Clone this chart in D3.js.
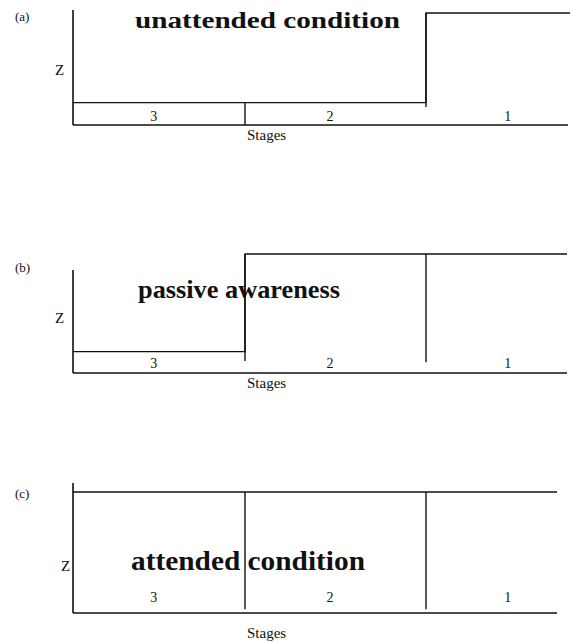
<!DOCTYPE html>
<html>
<head>
<meta charset="utf-8">
<script src="https://cdn.jsdelivr.net/npm/d3@7"></script>
<style>
  body { margin: 0; background: #fff; }
  svg { display: block; }
  text { font-family: "Liberation Serif", "Times New Roman", serif; fill: #111; }
</style>
</head>
<body>
<svg id="chart"></svg>
<script>
// stages, from left to right
const stages = ["3", "2", "1"];
// relative Z level of each stage in each panel
const zA = [0.2, 0.2, 1];
const zB = [0.18, 1, 1];
const zC = [1, 1, 1];
// where each stage divider stops at the bottom (Z units)
const floorA = [0, 0.16];
const floorB = [0.1, 0.09];
const floorC = [0.03, 0.03];
const titles = ["unattended condition", "passive awareness", "attended condition"];
const tags = ["(a)", "(b)", "(c)"];

// layout of the three panels (pixels)
const panels = [
  {z: zA, floor: floorA, base: 125, top: 13, axisTop: 10, xEnd: 570, baseEnd: 568,
   title: {x: 135, y: 28, size: 24, len: 265}, tagY: 21, zY: 75, zX: 55, labY: 121, stY: 140},
  {z: zB, floor: floorB, base: 373, top: 254, axisTop: 270, xEnd: 567, baseEnd: 567,
   title: {x: 138, y: 298, size: 25, len: 202}, tagY: 272, zY: 323, zX: 55, labY: 368, stY: 388},
  {z: zC, floor: floorC, base: 613, top: 492, axisTop: 483, xEnd: 557, baseEnd: 557,
   title: {x: 131, y: 570, size: 28, len: 234}, tagY: 498, zY: 571, zX: 61, labY: 602, stY: 638}
];

const W = 573, H = 642;
const svg = d3.select("#chart").attr("width", W).attr("height", H);

// stage edges 0..3 mapped onto the page
const x = d3.scaleLinear().domain([0, 1, 2, 3]).range([73, 245, 426, 600]);

panels.forEach((p, i) => {
  const y = d3.scaleLinear().domain([0, 1]).range([p.base, p.top]);
  const g = svg.append("g");
  const ink = "#111";

  // y axis
  g.append("line")
    .attr("x1", x(0)).attr("x2", x(0))
    .attr("y1", p.axisTop).attr("y2", p.base)
    .attr("stroke", ink).attr("stroke-width", 1.6);

  // x baseline
  g.append("line")
    .attr("x1", x(0)).attr("x2", p.baseEnd)
    .attr("y1", p.base).attr("y2", p.base)
    .attr("stroke", ink).attr("stroke-width", 1.4);

  // Z step line
  const pts = p.z.map((v, k) => [k, v]);
  pts.push([x.invert(p.xEnd), p.z[p.z.length - 1]]);
  const line = d3.line()
    .x(d => x(d[0]))
    .y(d => y(d[1]))
    .curve(d3.curveStepAfter);
  g.append("path")
    .attr("d", line(pts))
    .attr("fill", "none")
    .attr("stroke", ink).attr("stroke-width", 1.4);

  // stage dividers
  [1, 2].forEach((e, k) => {
    const topZ = Math.max(p.z[e - 1], p.z[e]);
    g.append("line")
      .attr("x1", x(e)).attr("x2", x(e))
      .attr("y1", y(topZ)).attr("y2", y(p.floor[k]))
      .attr("stroke", ink).attr("stroke-width", 1.4);
  });

  // stage numbers
  g.selectAll(".lab").data(stages).join("text")
    .attr("class", "lab")
    .attr("x", (d, k) => x(k + 0.47))
    .attr("y", p.labY)
    .attr("text-anchor", "middle")
    .style("font-size", "14px")
    .text(d => d);

  g.append("text")
    .attr("x", x(1) + 2).attr("y", p.stY)
    .style("font-size", "15px")
    .text("Stages");

  g.append("text")
    .attr("x", p.zX).attr("y", p.zY)
    .style("font-size", "15px")
    .text("Z");

  g.append("text")
    .attr("x", 15).attr("y", p.tagY)
    .style("font-size", "13px")
    .text(tags[i]);

  g.append("text")
    .attr("x", p.title.x).attr("y", p.title.y)
    .attr("textLength", p.title.len)
    .attr("lengthAdjust", "spacingAndGlyphs")
    .style("font-size", p.title.size + "px")
    .style("font-weight", "bold")
    .text(titles[i]);
});
</script>
</body>
</html>
